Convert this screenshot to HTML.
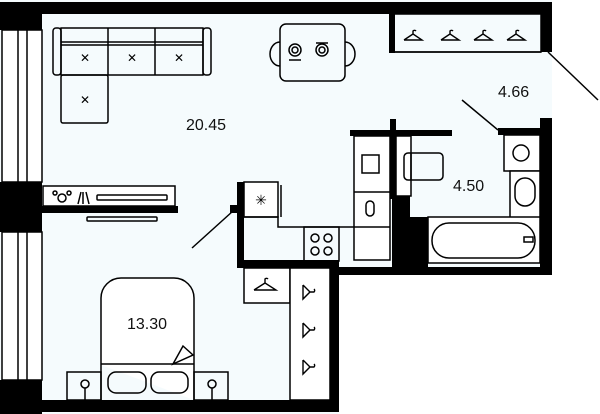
<!DOCTYPE html>
<html><head><style>body{margin:0;background:#fff}svg{display:block}</style></head><body>
<svg width="600" height="414" viewBox="0 0 600 414" xmlns="http://www.w3.org/2000/svg">
<rect width="600" height="414" fill="#f5fbfd"/>
<rect x="552" y="0" width="48" height="414" fill="#fff"/>
<rect x="338" y="275" width="262" height="139" fill="#fff"/>
<g fill="#000">
<rect x="0" y="2" width="552" height="12"/>
<rect x="0" y="2" width="42" height="28"/>
<rect x="0" y="182" width="42" height="50"/>
<rect x="0" y="380" width="42" height="34"/>
<rect x="0" y="400" width="338" height="12"/>
<rect x="330" y="264" width="9" height="148"/>
<rect x="541" y="2" width="11" height="50"/>
<rect x="389" y="13" width="6" height="40"/>
<rect x="42" y="206" width="136" height="7"/>
<rect x="237" y="182" width="7" height="85"/>
<rect x="230" y="205" width="9" height="8"/>
<rect x="237" y="260" width="102" height="8"/>
<rect x="330" y="267" width="222" height="8"/>
<rect x="540" y="118" width="12" height="157"/>
<rect x="498" y="128" width="54" height="7"/>
<rect x="350" y="130" width="102" height="6"/>
<rect x="390" y="119" width="6" height="80"/>
<rect x="392" y="195" width="18" height="72"/>
<rect x="392" y="217" width="36" height="50"/>
</g>
<g fill="#fff" stroke="#000" stroke-width="1.5">
<rect x="2" y="30" width="40" height="152"/>
<rect x="2" y="232" width="40" height="148"/>
</g>
<g stroke="#000" stroke-width="1.5" fill="none">
<line x1="18" y1="30" x2="18" y2="182"/><line x1="27" y1="30" x2="27" y2="182"/>
<line x1="18" y1="232" x2="18" y2="380"/><line x1="27" y1="232" x2="27" y2="380"/>
<line x1="395" y1="52" x2="541" y2="52"/>
<line x1="548" y1="52" x2="598" y2="100"/>
<line x1="462" y1="100" x2="498" y2="130"/>
<line x1="233" y1="211" x2="192" y2="248"/>
<!-- sofa -->
<rect x="53" y="28" width="8" height="47" rx="3"/>
<rect x="203" y="28" width="8" height="47" rx="3"/>
<rect x="61" y="28" width="142" height="47"/>
<line x1="61" y1="42" x2="203" y2="42"/><line x1="61" y1="45" x2="203" y2="45"/>
<line x1="108" y1="28" x2="108" y2="75"/><line x1="155" y1="28" x2="155" y2="75"/>
<rect x="61" y="75" width="47" height="48" rx="2"/>
<!-- table -->
<rect x="280" y="24" width="65" height="57" rx="6"/>
<path d="M280 42 a10 12 0 0 0 0 24"/><path d="M345 42 a10 12 0 0 1 0 24"/>
<circle cx="295" cy="50" r="6"/><circle cx="295" cy="50" r="3"/>
<circle cx="322" cy="50" r="6"/><circle cx="322" cy="50" r="3"/>
<line x1="289" y1="60" x2="301" y2="60"/><line x1="316" y1="43" x2="328" y2="43"/>
<!-- tv -->
<rect x="43" y="186" width="132" height="20" fill="#fff"/>
<rect x="97" y="195" width="70" height="5" rx="1"/>
<circle cx="62" cy="198" r="4"/><circle cx="55" cy="193" r="2"/><circle cx="69" cy="193" r="2"/>
<line x1="78" y1="204" x2="81" y2="192"/><line x1="83" y1="204" x2="83" y2="192"/><line x1="86" y1="192" x2="89" y2="204"/>
<rect x="87" y="217" width="70" height="4" rx="1"/>
<!-- kitchen -->
<rect x="244" y="182" width="34" height="35" fill="#fff"/>
<line x1="281" y1="185" x2="281" y2="217"/>
<polyline points="244,217 278,217 278,227 354,227"/>
<rect x="304" y="227" width="35" height="34"/>
<circle cx="315" cy="238" r="4"/><circle cx="328" cy="238" r="4"/><circle cx="315" cy="251" r="4"/><circle cx="328" cy="251" r="4"/>
<rect x="354" y="136" width="36" height="124" fill="#fff"/>
<line x1="354" y1="192" x2="390" y2="192"/><line x1="354" y1="227" x2="390" y2="227"/>
<rect x="362" y="155" width="17" height="18"/>
<rect x="366" y="201" width="8" height="15" rx="4"/>
<!-- bathroom -->
<rect x="396" y="136" width="15" height="60" fill="#fff"/>
<rect x="404" y="153" width="39" height="27" rx="4"/><line x1="411" y1="153" x2="411" y2="180"/>
<rect x="504" y="135" width="36" height="36" fill="#fff"/>
<circle cx="521" cy="153" r="8"/>
<rect x="510" y="171" width="30" height="47" fill="#fff"/>
<rect x="515" y="178" width="20" height="28" rx="10"/>
<rect x="428" y="217" width="112" height="46" fill="#fff"/>
<rect x="432" y="223" width="103" height="35" rx="17"/>
<rect x="524" y="237" width="9" height="5"/>
<!-- closets -->
<rect x="244" y="268" width="46" height="35" fill="#fff"/>
<rect x="290" y="268" width="40" height="132" fill="#fff"/>
<rect x="390" y="14" width="151" height="38" fill="none"/>
<!-- bed -->
<path d="M101 365 V298 a20 20 0 0 1 20 -20 H174 a20 20 0 0 1 20 20 V400" fill="#fff"/>
<line x1="101" y1="365" x2="101" y2="400"/>
<line x1="101" y1="364" x2="194" y2="364"/>
<rect x="108" y="372" width="38" height="21" rx="8"/><rect x="151" y="372" width="37" height="21" rx="8"/>
<path d="M173 364 l10 -18 l10 9 z" fill="#fff"/>
<rect x="67" y="372" width="34" height="28"/><rect x="194" y="372" width="34" height="28"/>
<circle cx="85" cy="384" r="4"/><line x1="85" y1="388" x2="85" y2="400"/>
<circle cx="212" cy="384" r="4"/><line x1="212" y1="388" x2="212" y2="400"/>
</g>
<g font-family="Liberation Sans, sans-serif" font-size="12" text-anchor="middle">
<text x="85" y="62">✕</text><text x="132" y="62">✕</text><text x="179" y="62">✕</text><text x="85" y="104">✕</text>
<text x="261" y="205" font-size="14">✳</text>
</g>
<g stroke="#000" stroke-width="1.4" fill="none">
<path d="M404 40 h18 l-9 -6 v-3 a2 2 0 0 1 3 0 M413 34 l-9 6"/>
<path d="M441 40 h18 l-9 -6 v-3 a2 2 0 0 1 3 0 M450 34 l-9 6"/>
<path d="M474 40 h18 l-9 -6 v-3 a2 2 0 0 1 3 0 M483 34 l-9 6"/>
<path d="M507 40 h18 l-9 -6 v-3 a2 2 0 0 1 3 0 M516 34 l-9 6"/>
<path d="M254 290 h22 l-11 -7 v-4 a2 2 0 0 1 3 0 M265 283 l-11 7"/>
<path d="M303 285 v14 l7 -7 h4 a2 2 0 0 0 0 -3 M310 292 l-7 -7"/>
<path d="M303 323 v14 l7 -7 h4 a2 2 0 0 0 0 -3 M310 330 l-7 -7"/>
<path d="M303 360 v14 l7 -7 h4 a2 2 0 0 0 0 -3 M310 367 l-7 -7"/>
</g>
<g font-family="Liberation Sans, sans-serif" font-size="16" fill="#111">
<text x="186" y="130">20.45</text>
<text x="498" y="97">4.66</text>
<text x="453" y="191">4.50</text>
<text x="127" y="329">13.30</text>
</g>
</svg>
</body></html>
